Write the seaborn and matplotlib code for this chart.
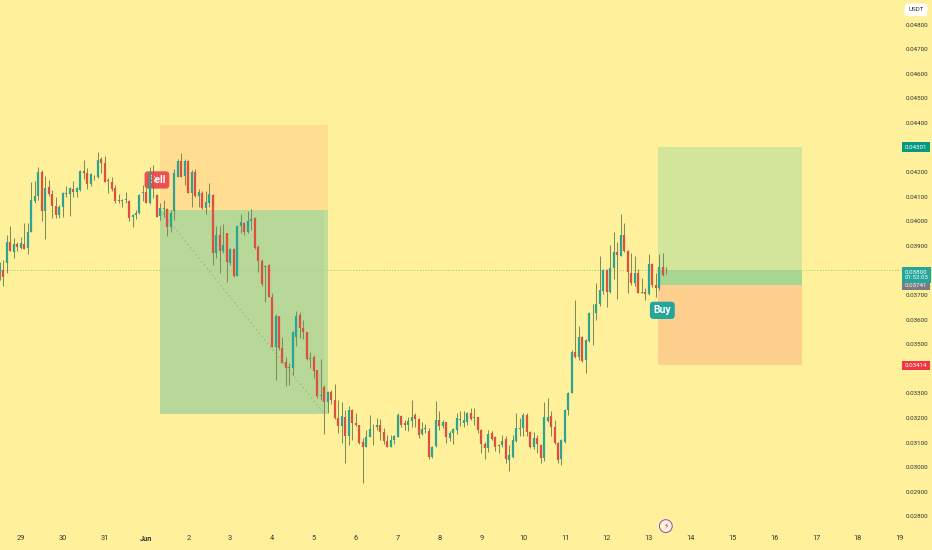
import matplotlib
matplotlib.use("Agg")
import matplotlib.pyplot as plt
import numpy as np
import pandas as pd
import seaborn as sns

# candle values, in 1e-5 USDT, one candle every 2h
opens = [3795,3802,3829,3917,3877,3908,3890,3908,3890,3958,4083,4103,4202,4043,4141,4111,4062,4026,4057,4111,
         4111,4130,4119,4127,4206,4195,4152,4179,4179,4252,4236,4168,4161,4134,4087,4084,4087,4084,4016,4027,
         4035,4117,4121,4076,4202,4107,4022,4049,4049,3976,4043,4182,4247,4184,4247,4117,4202,4103,4117,4053,
         4076,4107,3870,3945,3881,3951,3829,3886,3778,3979,3995,3956,4003,4012,3895,3840,3816,3823,3694,3491,
         3613,3484,3430,3403,3403,3531,3620,3565,3552,3439,3447,3396,3288,3328,3267,3308,3274,3199,3166,3206,
         3128,3233,3179,3170,3102,3084,3125,3174,3162,3172,3143,3105,3084,3109,3125,3210,3179,3172,3190,3213,
         3196,3135,3154,3149,3043,3087,3192,3168,3185,3118,3138,3152,3192,3181,3185,3222,3202,3203,3152,3095,
         3077,3138,3122,3091,3091,3114,3030,3040,3108,3154,3158,3213,3145,3081,3118,3091,3036,3188,3208,3162,
         3100,3032,3104,3233,3304,3470,3450,3531,3437,3515,3626,3626,3664,3718,3800,3714,3812,3877,3859,3945,
         3881,3789,3748,3789,3710,3713,3705,3827,3741,3728,3813,3802]
highs = [3836,3843,3945,3981,3931,3917,3935,3995,3995,4161,4164,4222,4209,4184,4168,4127,4098,4066,4121,4144,
         4141,4164,4141,4209,4249,4216,4198,4188,4281,4263,4266,4175,4179,4148,4111,4092,4118,4087,4030,4046,
         4111,4148,4161,4222,4229,4111,4076,4087,4053,4046,4211,4252,4277,4252,4249,4209,4211,4130,4125,4125,
         4155,4111,3981,3981,3989,3951,3890,3890,3985,4030,3999,4042,4049,4017,3904,3846,3823,3827,3710,3624,
         3615,3531,3447,3423,3556,3637,3633,3599,3552,3470,3457,3396,3439,3335,3312,3315,3339,3274,3267,3233,
         3250,3236,3222,3172,3118,3152,3213,3176,3199,3195,3159,3132,3132,3132,3220,3213,3192,3206,3274,3222,
         3202,3185,3175,3158,3087,3271,3230,3192,3185,3149,3158,3222,3229,3229,3226,3240,3240,3206,3154,3104,
         3152,3148,3127,3095,3131,3129,3091,3131,3222,3199,3222,3222,3148,3145,3131,3095,3267,3280,3229,3192,
         3104,3114,3236,3307,3477,3680,3575,3534,3521,3633,3664,3748,3859,3805,3805,3904,3956,3914,4029,3995,
         3884,3870,3859,3805,3769,3728,3867,3830,3789,3867,3870,3813]
lows = [3762,3739,3789,3881,3852,3881,3886,3886,3866,3958,4073,4087,4001,3927,4103,4012,4012,4012,4019,4098,
        4022,4100,4100,4125,4171,4132,4144,4168,4175,4195,4159,4117,4125,4076,4076,4057,4073,4003,3978,4010,
        4030,4083,4073,4071,4094,4016,4006,4019,3940,3958,4006,4179,4179,4148,4114,4057,4100,4057,4049,4029,
        4057,3823,3850,3791,3870,3755,3823,3775,3778,3952,3945,3952,3965,3888,3793,3737,3670,3691,3488,3355,
        3475,3423,3331,3334,3376,3493,3525,3521,3437,3403,3362,3281,3274,3136,3220,3258,3195,3139,3098,3019,
        3091,3111,3166,3095,2938,3082,3122,3091,3152,3111,3094,3082,3082,3095,3122,3162,3152,3149,3165,3162,
        3120,3131,3138,3032,3036,3081,3152,3158,3100,3108,3095,3135,3168,3165,3172,3192,3172,3138,3057,3032,
        3063,3111,3068,3057,3084,3019,2986,3036,3104,3129,3127,3129,3077,3073,3059,3019,3027,3185,3129,3095,
        3019,3009,3100,3213,3301,3443,3437,3430,3382,3511,3498,3599,3656,3705,3651,3710,3764,3683,3857,3877,
        3708,3741,3737,3708,3708,3680,3701,3732,3694,3721,3778,3786]
closes = [3816,3775,3917,3881,3908,3894,3911,3888,3958,4087,4103,4202,4043,4137,4111,4062,4026,4057,4117,4114,
          4134,4119,4134,4206,4195,4152,4192,4182,4249,4239,4161,4164,4132,4084,4081,4087,4090,4012,4026,4035,
          4107,4121,4076,4202,4134,4019,4053,4053,3978,4033,4195,4247,4182,4247,4117,4202,4103,4121,4053,4080,
          4111,3870,3945,3881,3904,3836,3886,3778,3981,3999,3958,4003,4008,3891,3840,3746,3819,3694,3491,3613,
          3484,3426,3403,3407,3552,3615,3565,3552,3439,3443,3393,3288,3294,3267,3308,3274,3199,3166,3209,3128,
          3233,3179,3172,3098,3084,3122,3156,3176,3172,3143,3105,3084,3111,3128,3213,3172,3172,3190,3206,3196,
          3131,3154,3158,3040,3084,3192,3168,3185,3122,3141,3154,3199,3196,3192,3222,3195,3206,3152,3095,3077,
          3135,3114,3081,3087,3108,3032,3050,3111,3158,3158,3213,3145,3081,3118,3095,3036,3206,3206,3162,3097,
          3030,3111,3233,3303,3470,3450,3529,3434,3518,3629,3629,3664,3721,3802,3714,3812,3877,3863,3945,3881,
          3792,3748,3789,3710,3714,3705,3827,3741,3728,3813,3782,3800]

day_labels = ["29", "30", "31", "Jun", "2", "3", "4", "5", "6", "7", "8", "9", "10", "11",
              "12", "13", "14", "15", "16", "17", "18", "19"]
price_ticks = [0.028, 0.029, 0.03, 0.031, 0.032, 0.033, 0.035, 0.036, 0.037,
               0.039, 0.04, 0.041, 0.042, 0.044, 0.045, 0.046, 0.047, 0.048]

bg = "#FFF19B"
up = "#2BA592"
down = "#DE4F3F"
wick = "#7F8B58"

sns.set_theme(style="white", rc={"axes.facecolor": bg, "figure.facecolor": bg})
plt.rcParams["font.family"] = ["Roboto", "DejaVu Sans"]

times = pd.date_range("2024-05-28 12:00", periods=len(opens), freq="2h")
df = pd.DataFrame({"time": times, "open": opens, "high": highs, "low": lows, "close": closes})
df[["open", "high", "low", "close"]] = df[["open", "high", "low", "close"]] / 1e5
df["candle"] = range(len(df))
df["dir"] = np.where(df["close"] >= df["open"], "up", "down")

wicks = df.melt(id_vars=["time", "candle", "dir"], value_vars=["low", "high"], value_name="price")
bodies = df.melt(id_vars=["time", "candle", "dir"], value_vars=["open", "close"], value_name="price")

fig = plt.figure(figsize=(9.32, 5.5), dpi=100)
ax = fig.add_axes([0, 0, 1, 1])

# position boxes
def zone(start, end, lo, hi, color):
    ax.fill_between(pd.to_datetime([start, end]), lo, hi, color=color, lw=0, zorder=1)

zone("2024-06-01 07:45", "2024-06-05 08:06", 0.04046, 0.04391, "#FFDE91")
zone("2024-06-01 07:45", "2024-06-05 08:06", 0.03217, 0.04046, "#C2DD98")
zone("2024-06-01 07:45", "2024-06-05 05:48", 0.03217, 0.04046, "#B7D898")
zone("2024-06-13 05:20", "2024-06-16 16:00", 0.03800, 0.04301, "#D2E59B")
zone("2024-06-13 05:20", "2024-06-16 16:00", 0.03741, 0.03800, "#A9D693")
zone("2024-06-13 05:20", "2024-06-16 16:00", 0.03414, 0.03741, "#FFCF8E")
ax.plot(pd.to_datetime(["2024-06-01 07:45", "2024-06-05 05:48"]), [0.04046, 0.0322],
        color="#8FAF7A", lw=0.7, ls=(0, (1.5, 3)), zorder=2)
ax.axhline(0.038, color="#A8CF84", lw=0.8, ls=(0, (1, 1.5)), zorder=2)

sns.lineplot(data=wicks, x="time", y="price", units="candle", estimator=None, color=wick,
             linewidth=0.75, legend=False, solid_capstyle="butt", zorder=3, ax=ax)
sns.lineplot(data=bodies, x="time", y="price", units="candle", estimator=None, hue="dir",
             palette={"up": up, "down": down}, linewidth=1.6, legend=False,
             solid_capstyle="butt", zorder=4, ax=ax)

start = pd.Timestamp("2024-05-28 12:00")
ax.set_xlim(start, start + pd.Timedelta(days=932 / 41.85))
ax.set_ylim(0.026638, 0.048996)
ax.set_xlabel("")
ax.set_ylabel("")
sns.despine(ax=ax, left=True, bottom=True)

ax.yaxis.tick_right()
ax.set_yticks(price_ticks)
ax.set_yticklabels([f"{p:.5f}" for p in price_ticks], fontsize=4.5, color="#333333", ha="left")
ax.tick_params(axis="y", length=0, pad=-19.1)

day_ticks = pd.date_range("2024-05-29", periods=len(day_labels), freq="D")
ax.set_xticks(day_ticks)
ax.set_xticklabels(day_labels, fontsize=5.3, color="#333333")
ax.get_xticklabels()[3].set_fontweight("bold")
ax.tick_params(axis="x", length=0, pad=-10.5)

# price tags on the right scale
ytrans = ax.get_yaxis_transform()
def tag(y, txt, color, size=4.4):
    ax.text(0.9707, y, txt, transform=ytrans, color="white", fontsize=size, ha="left", va="center",
            linespacing=1.2, zorder=8,
            bbox=dict(boxstyle="square,pad=0.4", fc=color, ec="none"))

tag(0.03414, "0.03414", "#F23645")
tag(0.03741, "0.03741", "#7A7B80")
tag(0.03782, "0.03800\n01:52:03", "#26A69A")
tag(0.04301, "0.04301", "#089981")

ax.text(0.9745, 0.982, "USDT", transform=ax.transAxes, fontsize=4.5, color="#333333", ha="left", va="center",
        zorder=8, bbox=dict(boxstyle="round,pad=0.6", fc="white", ec="none"))

# the Sell tag sits under the candles, the Buy tag above them
ax.text(pd.Timestamp("2024-06-01 06:00"), 0.04168, "Sell", color="white", fontsize=7.5, fontweight="bold",
        ha="center", va="center", zorder=2.5,
        bbox=dict(boxstyle="round,pad=0.35", fc="#EE5052", ec="none"))
ax.text(pd.Timestamp("2024-06-13 07:50"), 0.03638, "Buy", color="white", fontsize=7.5, fontweight="bold",
        ha="center", va="center", zorder=9,
        bbox=dict(boxstyle="round,pad=0.35", fc="#26A69A", ec="none"))

ax.text(pd.Timestamp("2024-06-13 09:50"), 0.02761, "\u26a1", color="#8E44D8", fontsize=5.5,
        family="DejaVu Sans", ha="center", va="center", zorder=9,
        bbox=dict(boxstyle="circle,pad=0.25", fc="#FFF6C8", ec="#8E44D8", lw=0.7))

fig.savefig("out.png", dpi=100, facecolor=bg)
